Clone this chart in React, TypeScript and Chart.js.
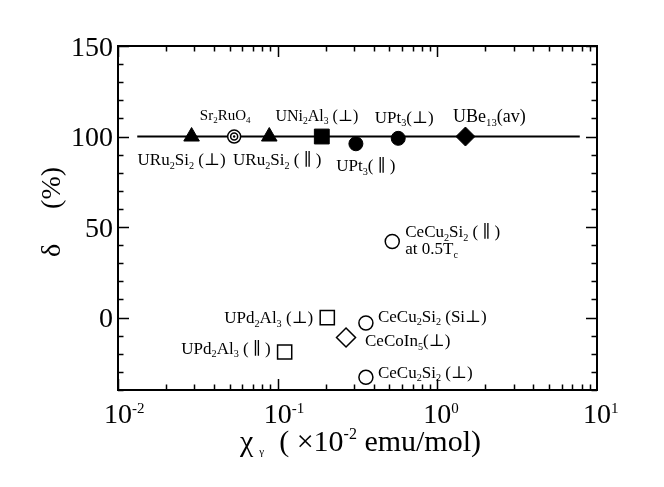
import React, { useEffect, useRef } from "react";
import { Chart, registerables } from "chart.js";

Chart.register(...registerables);

const FONT = '"Liberation Serif", "Times New Roman", "DejaVu Serif", serif';

// ---- data (x: χγ in 10^-2 emu/mol, y: δ in %) ----
const refLineX = [0.0132, 7.8];
const refLineY = [100, 100];

const filledTriangleX = [0.0289, 0.0886]; // URu2Si2 (⊥), URu2Si2 (∥)
const filledTriangleY = [100, 100];

const srRuX = [0.0534]; // Sr2RuO4
const srRuY = [100];

const filledSquareX = [0.189]; // UNi2Al3 (⊥)
const filledSquareY = [100];

const filledCircleX = [0.309, 0.569]; // UPt3 (∥), UPt3 (⊥)
const filledCircleY = [96, 99];

const filledDiamondX = [1.5]; // UBe13 (av)
const filledDiamondY = [100];

const openSquareX = [0.2045, 0.1106]; // UPd2Al3 (⊥), UPd2Al3 (∥)
const openSquareY = [0, -19];

const openCircleX = [0.522, 0.357, 0.357]; // CeCu2Si2 (∥) 0.5Tc, (Si⊥), (⊥)
const openCircleY = [42, -3, -33];

const openDiamondX = [0.268]; // CeCoIn5 (⊥)
const openDiamondY = [-11];

const yTickLabels = [0, 50, 100, 150];
const xTickExponents = [-2, -1, 0, 1];

type Lbl = {
  text: string;
  xs: number[];
  ys: number[];
  i: number;
  dx: number;
  dy: number;
  align: "left" | "center" | "right";
  size: number;
};

const pointLabels: Lbl[] = [
  { text: "URu_{2}Si_{2} (⊥)", xs: filledTriangleX, ys: filledTriangleY, i: 0, dx: -10, dy: 23, align: "center", size: 17 },
  { text: "Sr_{2}RuO_{4}", xs: srRuX, ys: srRuY, i: 0, dx: -9, dy: -21, align: "center", size: 15 },
  { text: "URu_{2}Si_{2} ( ∥ )", xs: filledTriangleX, ys: filledTriangleY, i: 1, dx: 8, dy: 23, align: "center", size: 17 },
  { text: "UNi_{2}Al_{3} (⊥)", xs: filledSquareX, ys: filledSquareY, i: 0, dx: -5, dy: -21, align: "center", size: 16 },
  { text: "UPt_{3}( ∥ )", xs: filledCircleX, ys: filledCircleY, i: 0, dx: 10, dy: 22, align: "center", size: 17 },
  { text: "UPt_{3}(⊥)", xs: filledCircleX, ys: filledCircleY, i: 1, dx: 6, dy: -21, align: "center", size: 17 },
  { text: "UBe_{13}(av)", xs: filledDiamondX, ys: filledDiamondY, i: 0, dx: 24, dy: -20, align: "center", size: 18 },
  { text: "CeCu_{2}Si_{2} ( ∥ )", xs: openCircleX, ys: openCircleY, i: 0, dx: 13, dy: -10, align: "left", size: 17 },
  { text: "at 0.5T_{c}", xs: openCircleX, ys: openCircleY, i: 0, dx: 13, dy: 7, align: "left", size: 17 },
  { text: "UPd_{2}Al_{3} (⊥)", xs: openSquareX, ys: openSquareY, i: 0, dx: -14, dy: 0, align: "right", size: 17 },
  { text: "UPd_{2}Al_{3} ( ∥ )", xs: openSquareX, ys: openSquareY, i: 1, dx: -14, dy: -4, align: "right", size: 17 },
  { text: "CeCu_{2}Si_{2} (Si⊥)", xs: openCircleX, ys: openCircleY, i: 1, dx: 12, dy: -7, align: "left", size: 17 },
  { text: "CeCoIn_{5}(⊥)", xs: openDiamondX, ys: openDiamondY, i: 0, dx: 19, dy: 3, align: "left", size: 17 },
  { text: "CeCu_{2}Si_{2} (⊥)", xs: openCircleX, ys: openCircleY, i: 2, dx: 12, dy: -5, align: "left", size: 17 },
];

type Seg = { t: string; size: number; dy: number };

function parseRich(s: string, size: number): Seg[] {
  const segs: Seg[] = [];
  const re = /(_|\^)\{([^}]*)\}/g;
  let last = 0;
  let m: RegExpExecArray | null;
  while ((m = re.exec(s))) {
    if (m.index > last) segs.push({ t: s.slice(last, m.index), size, dy: 0 });
    if (m[1] === "_") segs.push({ t: m[2], size: size * 0.6, dy: size * 0.2 });
    else segs.push({ t: m[2], size: size * 0.55, dy: -size * 0.38 });
    last = re.lastIndex;
  }
  if (last < s.length) segs.push({ t: s.slice(last), size, dy: 0 });
  return segs;
}

function drawSegs(ctx: CanvasRenderingContext2D, segs: Seg[], x: number, y: number, align: "left" | "center" | "right") {
  const widths = segs.map((sg) => {
    ctx.font = `${sg.size}px ${FONT}`;
    return ctx.measureText(sg.t).width;
  });
  const total = widths.reduce((a, b) => a + b, 0);
  let cx = align === "left" ? x : align === "center" ? x - total / 2 : x - total;
  ctx.textAlign = "left";
  ctx.textBaseline = "alphabetic";
  segs.forEach((sg, k) => {
    ctx.font = `${sg.size}px ${FONT}`;
    ctx.fillText(sg.t, cx, y + sg.dy);
    cx += widths[k];
  });
}

const framePlugin = {
  id: "frameAndText",
  afterDraw(chart: any) {
    const { ctx, chartArea: a } = chart;
    const xs = chart.scales.x;
    const ys = chart.scales.y;
    ctx.save();
    ctx.fillStyle = "#000";
    ctx.strokeStyle = "#000";

    // ticks
    ctx.lineWidth = 1.5;
    ctx.beginPath();
    for (let d = -2; d < 1; d++) {
      for (let m = 1; m <= 9; m++) {
        const v = m * Math.pow(10, d);
        const px = Math.round(xs.getPixelForValue(v)) + 0.5;
        const len = m === 1 ? 11 : 5.5;
        ctx.moveTo(px, a.bottom);
        ctx.lineTo(px, a.bottom - len);
        ctx.moveTo(px, a.top);
        ctx.lineTo(px, a.top + len);
      }
    }
    for (let v = -40; v <= 150; v += 10) {
      const py = Math.round(ys.getPixelForValue(v)) + 0.5;
      const len = v % 50 === 0 ? 11 : 5.5;
      ctx.moveTo(a.left, py);
      ctx.lineTo(a.left + len, py);
      ctx.moveTo(a.right, py);
      ctx.lineTo(a.right - len, py);
    }
    ctx.stroke();

    // frame
    ctx.lineWidth = 2;
    ctx.strokeRect(a.left, a.top, a.right - a.left, a.bottom - a.top);

    // y tick labels
    yTickLabels.forEach((v) => {
      const py = ys.getPixelForValue(v);
      drawSegs(ctx, [{ t: String(v), size: 28, dy: 0 }], a.left - 5, py + 9.5, "right");
    });

    // x tick labels: "10" centered on tick, exponent to the right
    xTickExponents.forEach((e) => {
      const px = xs.getPixelForValue(Math.pow(10, e));
      ctx.font = `28px ${FONT}`;
      const w = ctx.measureText("10").width;
      drawSegs(ctx, [{ t: "10", size: 28, dy: 0 }], px, a.bottom + 33, "center");
      drawSegs(ctx, [{ t: e < 0 ? "-" + Math.abs(e) : String(e), size: 15, dy: 0 }], px + w / 2, a.bottom + 23, "left");
    });

    // x axis title
    const cx = (a.left + a.right) / 2 + 3;
    drawSegs(
      ctx,
      [
        { t: "χ", size: 30, dy: 0 },
        { t: "  ", size: 12, dy: 0 },
        { t: "γ", size: 11, dy: 4 },
        { t: "  ( ", size: 30, dy: 0 },
        { t: "×", size: 30, dy: 0 },
        { t: "10", size: 30, dy: 0 },
        { t: "-2", size: 16, dy: -12 },
        { t: " emu/mol)", size: 30, dy: 0 },
      ],
      cx,
      a.bottom + 61,
      "center"
    );

    // y axis title (rotated)
    ctx.save();
    ctx.translate(60, (a.top + a.bottom) / 2 - 6);
    ctx.rotate(-Math.PI / 2);
    drawSegs(ctx, [{ t: "δ     (%)", size: 28, dy: 0 }], 0, 0, "center");
    ctx.restore();

    // point labels
    pointLabels.forEach((l) => {
      const px = xs.getPixelForValue(l.xs[l.i]);
      const py = ys.getPixelForValue(l.ys[l.i]);
      drawSegs(ctx, parseRich(l.text, l.size), px + l.dx, py + l.dy + l.size * 0.33, l.align);
    });

    ctx.restore();
  },
};

const toPts = (xs: number[], ys: number[]) => xs.map((x, i) => ({ x, y: ys[i] }));

export default function App() {
  const ref = useRef<HTMLCanvasElement>(null);
  useEffect(() => {
    if (!ref.current) return;
    const black = "#000";
    const chart = new Chart(ref.current, {
      type: "scatter",
      data: {
        datasets: [
          { data: toPts(refLineX, refLineY), showLine: true, borderColor: black, borderWidth: 2, pointRadius: 0, order: 10 },
          { data: toPts(filledTriangleX, filledTriangleY), pointStyle: "triangle", pointRadius: 9, backgroundColor: black, borderColor: black, borderWidth: 1, order: 1 },
          { data: toPts(srRuX, srRuY), pointStyle: "circle", pointRadius: 6.5, backgroundColor: "#fff", borderColor: black, borderWidth: 1.5, order: 3 },
          { data: toPts(srRuX, srRuY), pointStyle: "circle", pointRadius: 3.5, backgroundColor: "#fff", borderColor: black, borderWidth: 1.5, order: 2 },
          { data: toPts(srRuX, srRuY), pointStyle: "circle", pointRadius: 1.2, backgroundColor: black, borderColor: black, borderWidth: 0, order: 1 },
          { data: toPts(filledSquareX, filledSquareY), pointStyle: "rect", pointRadius: 10.5, backgroundColor: black, borderColor: black, borderWidth: 1, order: 1 },
          { data: toPts(filledCircleX, filledCircleY), pointStyle: "circle", pointRadius: 7, backgroundColor: black, borderColor: black, borderWidth: 1, order: 1 },
          { data: toPts(filledDiamondX, filledDiamondY), pointStyle: "rectRot", pointRadius: 9.5, backgroundColor: black, borderColor: black, borderWidth: 1, order: 1 },
          { data: toPts(openSquareX, openSquareY), pointStyle: "rect", pointRadius: 10, backgroundColor: "#fff", borderColor: black, borderWidth: 1.5, order: 1 },
          { data: toPts(openCircleX, openCircleY), pointStyle: "circle", pointRadius: 7, backgroundColor: "#fff", borderColor: black, borderWidth: 1.5, order: 1 },
          { data: toPts(openDiamondX, openDiamondY), pointStyle: "rectRot", pointRadius: 9.5, backgroundColor: "#fff", borderColor: black, borderWidth: 1.5, order: 1 },
        ],
      },
      options: {
        responsive: false,
        animation: false,
        layout: { padding: { top: 46, right: 67, left: 0, bottom: 0 } },
        plugins: { legend: { display: false }, tooltip: { enabled: false } },
        scales: {
          x: {
            type: "logarithmic",
            min: 0.01,
            max: 10,
            grid: { display: false },
            border: { display: false },
            ticks: { display: false },
            afterFit: (s: any) => {
              s.height = 97;
            },
          },
          y: {
            type: "linear",
            min: -40,
            max: 150,
            grid: { display: false },
            border: { display: false },
            ticks: { display: false },
            afterFit: (s: any) => {
              s.width = 118;
            },
          },
        },
      },
      plugins: [framePlugin],
    } as any);
    let alive = true;
    const fonts = (document as any).fonts;
    if (fonts && fonts.load) {
      Promise.all([fonts.load(`28px "Liberation Serif"`), fonts.load(`17px "DejaVu Sans"`)])
        .then(() => {
          if (alive) chart.draw();
        })
        .catch(() => {});
    }
    return () => {
      alive = false;
      chart.destroy();
    };
  }, []);
  return (
    <div style={{ position: "absolute", left: 0, top: 0, width: 664, height: 487, background: "#fff" }}>
      <canvas ref={ref} width={664} height={487} style={{ display: "block" }} />
    </div>
  );
}
